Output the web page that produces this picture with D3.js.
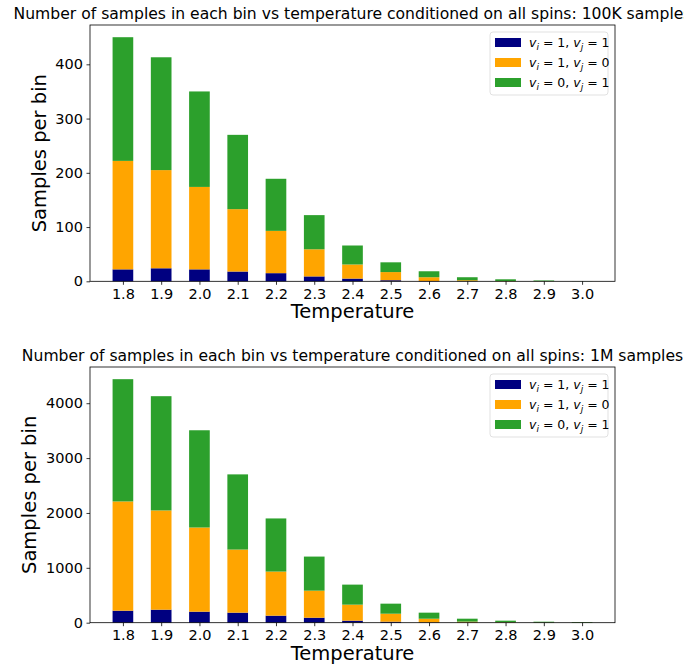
<!DOCTYPE html>
<html>
<head>
<meta charset="utf-8">
<script src="https://cdn.jsdelivr.net/npm/d3@7"></script>
<style>
  body { margin: 0; background: #fff; }
  svg { display: block; font-family: "DejaVu Sans", sans-serif; overflow: hidden; }
</style>
</head>
<body>
<svg width="684" height="664"></svg>
<script>
  // temperature bins
  var temps = [1.8, 1.9, 2.0, 2.1, 2.2, 2.3, 2.4, 2.5, 2.6, 2.7, 2.8, 2.9, 3.0];

  // 100K samples, per stack segment
  var k100_11 = [22, 24, 22, 18, 15, 9, 5, 2, 0.5, 0.3, 0, 0, 0];
  var k100_10 = [200, 181, 152, 115, 78, 50, 26, 15, 7, 1.7, 0.5, 0.2, 0];
  var k100_01 = [228, 208, 176, 137, 96, 63, 35, 18, 11, 5.5, 3.2, 1.3, 0.2];
  var k100_ticks = [0, 100, 200, 300, 400];

  // 1M samples, per stack segment
  var m1_11 = [219, 237, 201, 183, 128, 91, 37, 18, 5, 2, 1, 0, 0];
  var m1_10 = [1991, 1809, 1534, 1150, 804, 493, 292, 146, 68, 18, 7, 3, 2];
  var m1_01 = [2228, 2082, 1772, 1370, 968, 621, 365, 183, 110, 53, 29, 15, 10];
  var m1_ticks = [0, 1000, 2000, 3000, 4000];

  var keys = ["v11", "v10", "v01"];
  var colors = { v11: "#000080", v10: "#ffa500", v01: "#2ca02c" };
  var legendLabels = [
    { key: "v11", a: "1", b: "1" },
    { key: "v10", a: "1", b: "0" },
    { key: "v01", a: "0", b: "1" }
  ];

  var svg = d3.select("svg");

  var panels = [
    {
      title: "Number of samples in each bin vs temperature conditioned on all spins: 100K samples",
      s11: k100_11, s10: k100_10, s01: k100_01, ticks: k100_ticks,
      top: 25, bottom: 281.3, ylab: 46
    },
    {
      title: "Number of samples in each bin vs temperature conditioned on all spins: 1M samples",
      s11: m1_11, s10: m1_10, s01: m1_01, ticks: m1_ticks,
      top: 367, bottom: 622.7, ylab: 36
    }
  ];

  var left = 90, right = 615;
  var x = d3.scaleLinear().domain([1.714, 3.086]).range([left, right]);
  var barW = 0.054;

  panels.forEach(function (p) {
    var rows = temps.map(function (t, i) {
      return { t: t, v11: p.s11[i], v10: p.s10[i], v01: p.s01[i] };
    });
    var stacked = d3.stack().keys(keys)(rows);
    var maxTotal = d3.max(stacked[stacked.length - 1], function (d) { return d[1]; });

    var y = d3.scaleLinear().domain([0, maxTotal * 1.05]).range([p.bottom, p.top]);

    var g = svg.append("g");

    g.append("g")
      .selectAll("g")
      .data(stacked)
      .enter()
      .append("g")
      .attr("fill", function (d) { return colors[d.key]; })
      .selectAll("rect")
      .data(function (d) { return d; })
      .enter()
      .append("rect")
      .attr("x", function (d) { return x(d.data.t - barW / 2); })
      .attr("width", function (d) { return x(d.data.t + barW / 2) - x(d.data.t - barW / 2); })
      .attr("y", function (d) { return y(d[1]); })
      .attr("height", function (d) { return y(d[0]) - y(d[1]); });

    // axes
    var xAxis = g.append("g")
      .attr("transform", "translate(0," + p.bottom + ")")
      .call(d3.axisBottom(x).tickValues(temps).tickFormat(d3.format(".1f")).tickSize(3.5).tickPadding(3.5));
    var yAxis = g.append("g")
      .attr("transform", "translate(" + left + ",0)")
      .call(d3.axisLeft(y).tickValues(p.ticks).tickFormat(d3.format("d")).tickSize(3.5).tickPadding(3.5));

    [xAxis, yAxis].forEach(function (a) {
      a.select(".domain").remove();
      a.selectAll(".tick line").attr("stroke", "#000").attr("stroke-width", 0.8);
      a.selectAll(".tick text")
        .attr("fill", "#000")
        .style("font-size", "14.5px")
        .style("font-family", "DejaVu Sans");
    });

    // frame
    g.append("rect")
      .attr("x", left)
      .attr("y", p.top)
      .attr("width", right - left)
      .attr("height", p.bottom - p.top)
      .attr("fill", "none")
      .attr("stroke", "#000")
      .attr("stroke-width", 0.8);

    // labels
    g.append("text")
      .attr("x", (left + right) / 2)
      .attr("y", p.bottom + 37)
      .attr("text-anchor", "middle")
      .style("font-size", "19.5px")
      .text("Temperature");

    g.append("text")
      .attr("transform", "translate(" + p.ylab + "," + (p.top + p.bottom) / 2 + ") rotate(-90)")
      .attr("text-anchor", "middle")
      .style("font-size", "19.5px")
      .text("Samples per bin");

    g.append("text")
      .attr("x", (left + right) / 2)
      .attr("y", p.top - 6)
      .attr("text-anchor", "middle")
      .style("font-size", "15.6px")
      .text(p.title);

    // legend
    var lg = g.append("g").attr("transform", "translate(490," + (p.top + 7) + ")");
    lg.append("rect")
      .attr("width", 118)
      .attr("height", 63)
      .attr("rx", 3)
      .attr("fill", "#fff")
      .attr("fill-opacity", 0.8)
      .attr("stroke", "#d9d9d9")
      .attr("stroke-width", 0.8);

    var item = lg.selectAll("g.item")
      .data(legendLabels)
      .enter()
      .append("g")
      .attr("class", "item")
      .attr("transform", function (d, i) { return "translate(0," + (i * 20) + ")"; });

    item.append("rect")
      .attr("x", 5)
      .attr("y", 6)
      .attr("width", 26)
      .attr("height", 9)
      .attr("fill", function (d) { return colors[d.key]; });

    var txt = item.append("text")
      .attr("x", 39)
      .attr("y", 15)
      .style("font-size", "12.5px");
    txt.append("tspan").style("font-style", "italic").text("v");
    txt.append("tspan").style("font-style", "italic").style("font-size", "9px").attr("dy", 3).text("i");
    txt.append("tspan").attr("dy", -3).text(function (d) { return " = " + d.a + ", "; });
    txt.append("tspan").style("font-style", "italic").text("v");
    txt.append("tspan").style("font-style", "italic").style("font-size", "9px").attr("dy", 3).text("j");
    txt.append("tspan").attr("dy", -3).text(function (d) { return " = " + d.b; });
  });
</script>
</body>
</html>
